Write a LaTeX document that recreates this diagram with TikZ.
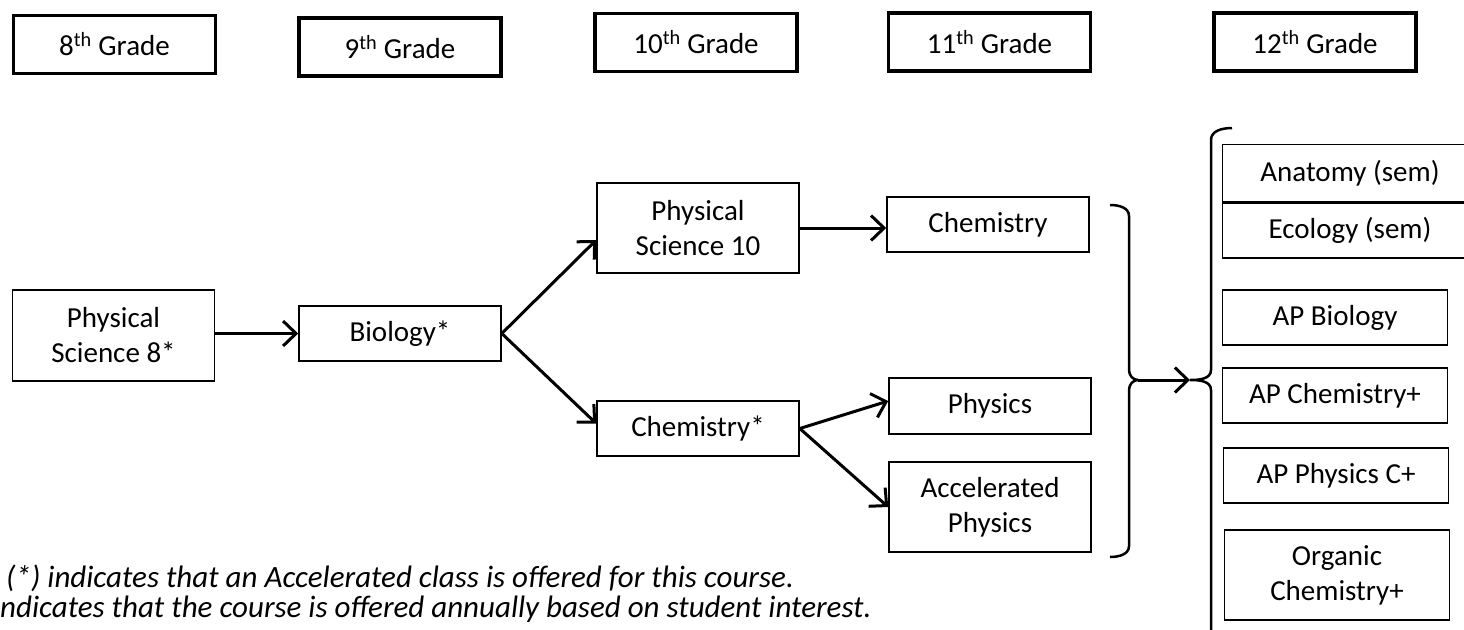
\documentclass[tikz,border=0pt]{standalone}
\usepackage{fontspec}
\setmainfont{Carlito}
\usetikzlibrary{arrows.meta}

\begin{document}
\begin{tikzpicture}[x=1pt,y=-1pt,
    font=\fontsize{29}{35}\selectfont,
    gradebox/.style={draw,line width=3.2pt,minimum width=202pt,minimum height=58pt,inner sep=0pt},
    coursebox/.style={draw,line width=1.6pt,minimum width=202pt,minimum height=55.5pt,align=center,inner sep=0pt},
    tallbox/.style={coursebox,minimum height=90.5pt},
    apbox/.style={coursebox,minimum width=225pt},
    seq/.style={line width=3pt,-{Straight Barb[length=13pt,width=25pt]}},
    bracket/.style={line width=2.5pt},
    note/.style={anchor=base west,inner sep=0pt,font=\fontsize{31}{37}\selectfont\itshape}]
    \useasboundingbox (0,0) rectangle (1464,629);

    % grades
    \node[gradebox] (g8)  at (114.5,44.5) {8\textsuperscript{th} Grade};
    \node[gradebox] (g9)  at (400,47)     {9\textsuperscript{th} Grade};
    \node[gradebox] (g10) at (696,42.5)   {10\textsuperscript{th} Grade};
    \node[gradebox] (g11) at (989.5,42)   {11\textsuperscript{th} Grade};
    \node[gradebox] (g12) at (1315,42)    {12\textsuperscript{th} Grade};

    % courses
    \node[tallbox]   (ps8)    at (113.5,335.5) {Physical\\Science 8*};
    \node[coursebox] (bio)    at (400,333.5)   {Biology*};
    \node[tallbox]   (ps10)   at (698,228)     {Physical\\Science 10};
    \node[coursebox] (chemst) at (698,428.5)   {Chemistry*};
    \node[coursebox] (chem)   at (988,224.5)   {Chemistry};
    \node[coursebox] (phys)   at (990,406)     {Physics};
    \node[tallbox]   (accph)  at (990,507)     {Accelerated\\Physics};

    % 12th grade electives
    \node[coursebox,minimum width=255pt,minimum height=57pt] (anat) at (1350,173) {Anatomy (sem)};
    \node[coursebox,minimum width=255pt,minimum height=55pt,anchor=north] (ecol) at (anat.south) {Ecology (sem)};
    \node[apbox] (apbio)  at (1335,317.5) {AP Biology};
    \node[apbox] (apchem) at (1335,395.5) {AP Chemistry+};
    \node[apbox] (apphys) at (1336,475.5) {AP Physics C+};
    \node[apbox,minimum height=90.5pt] (orgchem) at (1337,575) {Organic\\Chemistry+};

    % arrows
    \draw[seq] (ps8.east |- bio.west) -- (bio.west);
    \draw[seq] (bio.east) -- ([yshift=-12pt]ps10.west);
    \draw[seq] (bio.east) -- ([yshift=5pt]chemst.west);
    \draw[seq] (ps10.east) -- (ps10.east -| chem.west);
    \draw[seq] (chemst.east) -- ([yshift=5pt]phys.west);
    \draw[seq] (chemst.east) -- (accph.west);

    % brackets
    \coordinate (rb) at (1138,380);
    \coordinate (lb) at (1190,380);
    \draw[bracket] (1110,205) to[out=0,in=90] (1129,216) -- (1129,370)
        to[out=-90,in=180] (rb) to[out=180,in=90] (1129,390) -- (1129,546)
        to[out=-90,in=0] (1110,557);
    \draw[bracket] (1232,128) to[out=180,in=90] (1211,140) -- (1211,370)
        to[out=-90,in=0] (lb) to[out=0,in=90] (1211,390) -- (1211,640);
    \draw[seq] (rb) -- (lb);

    % notes
    \node[note] (note1) at (6,587)
        {(*) indicates that an Accelerated class is offered for this course.};
    \node[note] (note2) at (0,617)
        {ndicates that the course is offered annually based on student interest.};
\end{tikzpicture}
\end{document}
